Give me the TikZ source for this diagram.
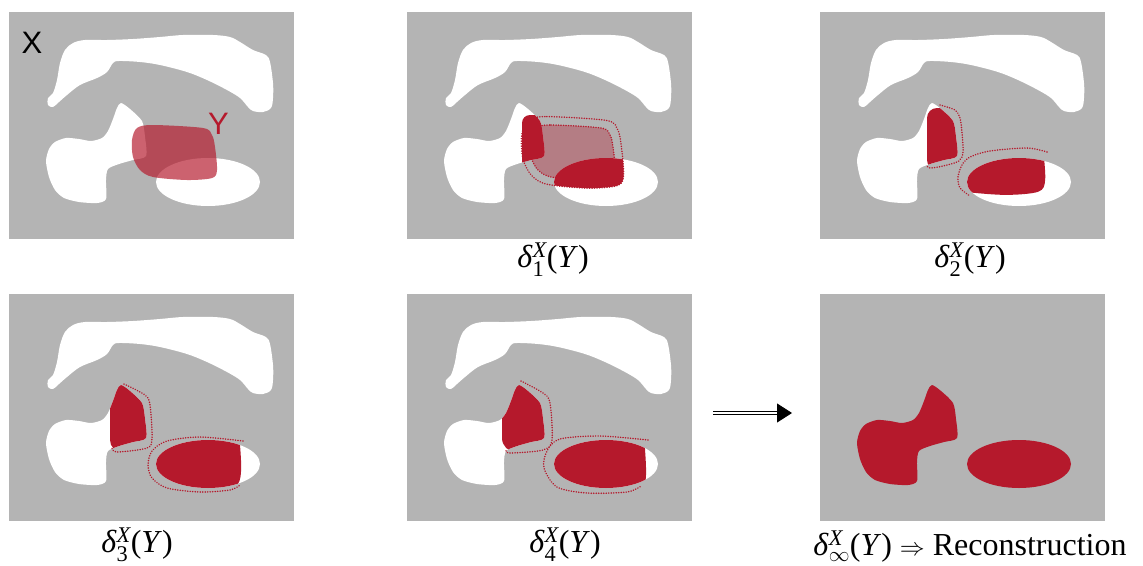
\documentclass[tikz,border=0pt]{standalone}
\usepackage{amsmath}
\usepackage{fontspec}
\setmainfont{Liberation Serif}
\newfontfamily\setletter{Liberation Sans}
\usetikzlibrary{arrows.meta}

\definecolor{bggrey}{RGB}{180,180,180}
\definecolor{cellred}{RGB}{181,25,44}

% white parts of X, in panel coordinates
\newcommand{\xupper}{plot[smooth cycle, tension=0.55] coordinates {(44,81) (39,86) (39,93) (44,95) (50,90) (58,83) (71,73) (88,66) (98,60) (104,51) (110,49) (131,50) (151,53) (178,60) (198,68) (218,78) (231,86) (239,95) (244,99) (254,100) (262,96) (264,86) (264,71) (261,50) (257,43) (244,38) (231,30) (221,25) (204,23) (174,23) (151,25) (124,27) (98,28) (76,28) (64,31) (56,38) (51,51) (48,68)}}
\newcommand{\xleft}{plot[smooth cycle, tension=0.45] coordinates {(112,91) (121,97) (133,109) (136,125) (137,144) (124,148) (110,152) (99,157) (97,168) (97,187) (88,191) (70,190) (55,186) (46,178) (40,165) (37,149) (40,137) (46,130) (57,126) (70,127) (82,129) (93,126) (99,119) (104,107) (108,96)}}
\newcommand{\xoval}{(199,170) ellipse [x radius=52, y radius=24]}
\newcommand{\yset}{plot[smooth cycle, tension=0.5] coordinates {(128,116) (144,113) (194,116) (203,123) (206,135) (208,158) (203,166) (178,168) (144,165) (131,158) (124,145) (123,128)}}
\newcommand{\dlab}[1]{\textit{δ}$^{\text{\itshape X}}_{\text{#1}}$(\textit{Y})}

\begin{document}
\begin{tikzpicture}[x=1pt,y=-1pt,
  panel/.style={fill=bggrey},
  cell/.style={fill=cellred},
  frontier/.style={draw=cellred, line width=1.6pt, dash pattern=on 0.1pt off 2.4pt, line cap=round},
  grow/.style 2 args={shift={(165,141)},xscale=#1,yscale=#2,shift={(-165,-141)}},
  letter/.style={font=\setletter\fontsize{31}{36}\selectfont, inner sep=0pt},
  lab/.style={font=\fontsize{32}{38}\selectfont, anchor=base, inner sep=0pt},
  implies/.style={double, double distance=2pt, line width=0.9pt, -{Triangle[length=15pt,width=19pt]}}]
\useasboundingbox (0,0) rectangle (1143,565);

\foreach \px/\py in {9/12, 407/12, 820/12, 9/294, 407/294} {
  \begin{scope}[shift={(\px,\py)}]
    \fill[panel] (0,0) rectangle (285,227);
    \fill[white] \xupper \xleft \xoval;
  \end{scope}
}

% X and Y
\begin{scope}[shift={(9,12)}]
  \fill[cellred, fill opacity=0.68] \yset;
  \node[letter] (xname) at (23,31) {X};
  \node[letter, text=cellred] (yname) at (209.5,112) {Y};
\end{scope}

% first step
\begin{scope}[shift={(407,12)}]
  \fill[cellred, fill opacity=0.35] \yset;
  \draw[frontier] \yset;
  \draw[frontier, grow={1.2}{1.3}] \yset;
  \begin{scope}
    \clip[rounded corners=8] (115,103) rectangle (300,158);
    \clip \xleft;
    \fill[cell] (0,0) rectangle (285,227);
  \end{scope}
  \begin{scope}
    \clip[grow={1.2}{1.3}] \yset;
    \clip \xoval;
    \fill[cell] (0,0) rectangle (285,227);
  \end{scope}
\end{scope}

% second step
\begin{scope}[shift={(820,12)}]
  \begin{scope}
    \clip[rounded corners=10] (107,96) rectangle (300,158);
    \clip \xleft;
    \fill[cell] (0,0) rectangle (285,227);
  \end{scope}
  \begin{scope}
    \clip[grow={1.4}{1.55}] \yset;
    \clip \xoval;
    \fill[cell] (0,0) rectangle (285,227);
  \end{scope}
  \draw[frontier] plot[smooth] coordinates {(120,93) (135,98) (140,106) (142,121) (143,140) (139,149) (123,154) (110,156) (106,153)};
  \draw[frontier] plot[smooth] coordinates {(227,140) (207,136) (170,139) (150,145) (142,153) (138,165) (140,176) (150,184)};
\end{scope}

% third step
\begin{scope}[shift={(9,294)}]
  \begin{scope}
    \clip[rounded corners=12] (101,88) rectangle (300,158);
    \clip \xleft;
    \fill[cell] (0,0) rectangle (285,227);
  \end{scope}
  \begin{scope}
    \clip[grow={1.56}{2.1}] \yset;
    \clip \xoval;
    \fill[cell] (0,0) rectangle (285,227);
  \end{scope}
  \draw[frontier] plot[smooth] coordinates {(115,90) (136,101) (141,111) (143,144) (138,154) (108,158) (103,154)};
  \draw[frontier] plot[smooth] coordinates {(234,147) (191,143) (158,147) (143,157) (139,171) (143,184) (158,194) (191,198) (221,196) (231,191)};
\end{scope}

% fourth step
\begin{scope}[shift={(407,294)}]
  \begin{scope}
    \clip[rounded corners=14] (95,80) rectangle (300,158);
    \clip \xleft;
    \fill[cell] (0,0) rectangle (285,227);
  \end{scope}
  \begin{scope}
    \clip[grow={1.72}{2.4}] \yset;
    \clip \xoval;
    \fill[cell] (0,0) rectangle (285,227);
  \end{scope}
  \draw[frontier] plot[smooth] coordinates {(114,87) (136,99) (143,109) (145,146) (136,156) (103,159) (99,156)};
  \draw[frontier] plot[smooth] coordinates {(241,146) (193,142) (153,145) (140,157) (137,174) (150,193) (180,199) (220,198) (234,192)};
\end{scope}

% limit
\fill[panel] (820,294) rectangle +(285,227);
\begin{scope}[shift={(820,294)}]
  \fill[cell] \xleft \xoval;
\end{scope}

\coordinate (arrfrom) at (713,413);
\coordinate (arrto) at (792,413);
\draw[implies] (arrfrom) -- (arrto);

\node[lab] (d1) at (553,267) {\dlab{1}};
\node[lab] (d2) at (970,267) {\dlab{2}};
\node[lab] (d3) at (137,552) {\dlab{3}};
\node[lab] (d4) at (565,552) {\dlab{4}};
\node[lab] (dinf) at (970,555) {\dlab{$\infty$} $\Rightarrow$ Reconstruction};
\end{tikzpicture}
\end{document}
